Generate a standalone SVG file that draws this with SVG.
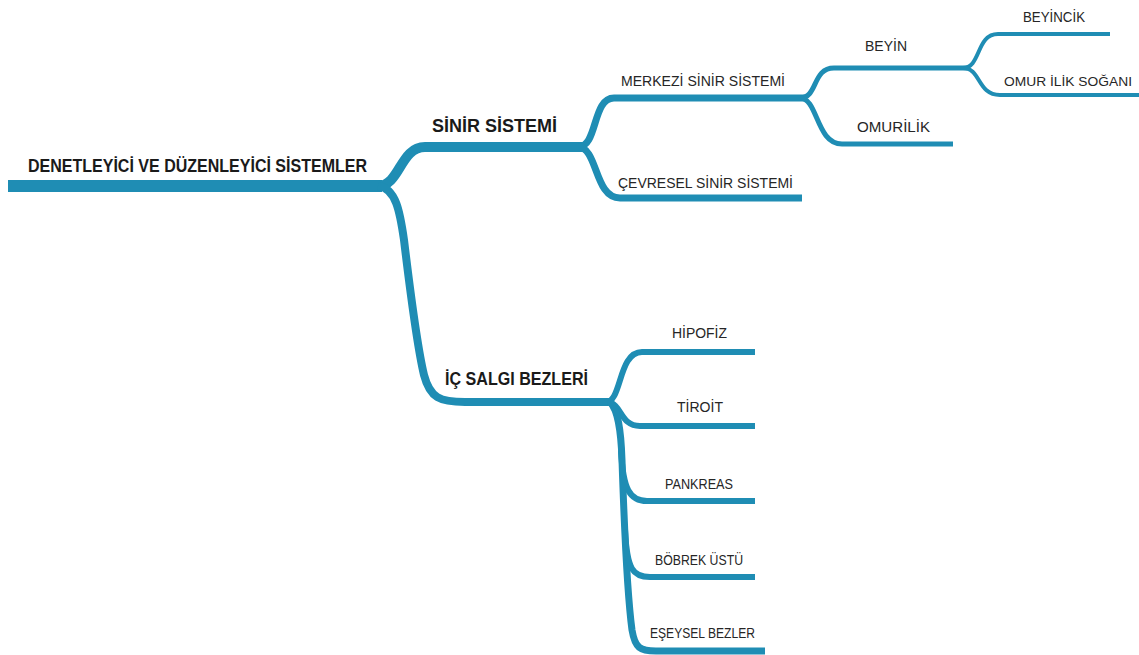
<svg xmlns="http://www.w3.org/2000/svg" width="1139" height="655" viewBox="0 0 1139 655">
  <style>
    .br { fill: none; stroke: #1f8db4; stroke-linecap: butt; stroke-linejoin: round; }
    .main { font-family: "Liberation Sans", "DejaVu Sans", sans-serif; font-weight: bold; font-size: 19px; fill: #1a1a1a; }
    .sub { font-family: "Liberation Sans", "DejaVu Sans", sans-serif; font-size: 15.5px; fill: #262626; }
    .small { font-size: 13px; }
  </style>
  <rect width="1139" height="655" fill="#ffffff"/>
  <g id="connectors">
    <path class="br" stroke-width="12" d="M8,186 H382"/>
    <path class="br" stroke-width="10" d="M378,186 C400,186 400,147 425,147 H586"/>
    <path class="br" stroke-width="8" d="M378,186 C396,188 400,212 404,240 C410,290 418,350 424,375 C430,398 440,402 465,402 H614"/>
    <path class="br" stroke-width="7" d="M578,147 C598,147 592,98 614,98 H807"/>
    <path class="br" stroke-width="7" d="M578,147 C598,147 594,198 620,198 H802"/>
    <path class="br" stroke-width="5" d="M800,98 C818,98 812,68 834,68 H969"/>
    <path class="br" stroke-width="5" d="M800,98 C818,98 816,144 842,144 H953"/>
    <path class="br" stroke-width="4" d="M963,68 C981,68 976,34 998,34 H1110"/>
    <path class="br" stroke-width="4" d="M963,68 C981,68 977,95 1000,95 H1139"/>
    <path class="br" stroke-width="6" d="M606,402 C622,402 618,352 642,352 H755"/>
    <path class="br" stroke-width="6" d="M608,402 C622,404 620,426 640,426 H755"/>
    <path class="br" stroke-width="7" d="M610,402 C618,410 621,430 622,460 C624,520 628,600 632,630 C635,648 640,651 656,651 H765"/>
    <path class="br" stroke-width="6" d="M621,450 C623,490 630,501 647,501 H755"/>
    <path class="br" stroke-width="6" d="M625,530 C627,570 633,577 650,577 H755"/>
  </g>
  <g id="root"><text class="main" x="28" y="172" textLength="339" lengthAdjust="spacingAndGlyphs">DENETLEYİCİ VE DÜZENLEYİCİ SİSTEMLER</text></g>
  <g id="sinir"><text class="main" x="432" y="132" textLength="125" lengthAdjust="spacingAndGlyphs">SİNİR SİSTEMİ</text></g>
  <g id="merkezi"><text class="sub" x="621" y="86" textLength="164" lengthAdjust="spacingAndGlyphs">MERKEZİ SİNİR SİSTEMİ</text></g>
  <g id="cevresel"><text class="sub" x="618" y="188" textLength="175" lengthAdjust="spacingAndGlyphs">ÇEVRESEL SİNİR SİSTEMİ</text></g>
  <g id="beyin"><text class="sub" x="865" y="51" textLength="42" lengthAdjust="spacingAndGlyphs">BEYİN</text></g>
  <g id="omurilik"><text class="sub" x="857" y="132" textLength="73" lengthAdjust="spacingAndGlyphs">OMURİLİK</text></g>
  <g id="beyincik"><text class="sub" x="1023" y="22" textLength="62" lengthAdjust="spacingAndGlyphs">BEYİNCİK</text></g>
  <g id="omur-ilik-sogani"><text class="sub small" x="1004" y="86" textLength="128" lengthAdjust="spacingAndGlyphs">OMUR İLİK SOĞANI</text></g>
  <g id="ic-salgi"><text class="main" x="445" y="385" textLength="143" lengthAdjust="spacingAndGlyphs">İÇ SALGI BEZLERİ</text></g>
  <g id="hipofiz"><text class="sub" x="672" y="338" textLength="55" lengthAdjust="spacingAndGlyphs">HİPOFİZ</text></g>
  <g id="tiroit"><text class="sub" x="677" y="412" textLength="46" lengthAdjust="spacingAndGlyphs">TİROİT</text></g>
  <g id="pankreas"><text class="sub" x="665" y="489" textLength="68" lengthAdjust="spacingAndGlyphs">PANKREAS</text></g>
  <g id="bobrek-ustu"><text class="sub" x="655" y="565" textLength="88" lengthAdjust="spacingAndGlyphs">BÖBREK ÜSTÜ</text></g>
  <g id="eseysel"><text class="sub" x="650" y="638" textLength="105" lengthAdjust="spacingAndGlyphs">EŞEYSEL BEZLER</text></g>
</svg>
